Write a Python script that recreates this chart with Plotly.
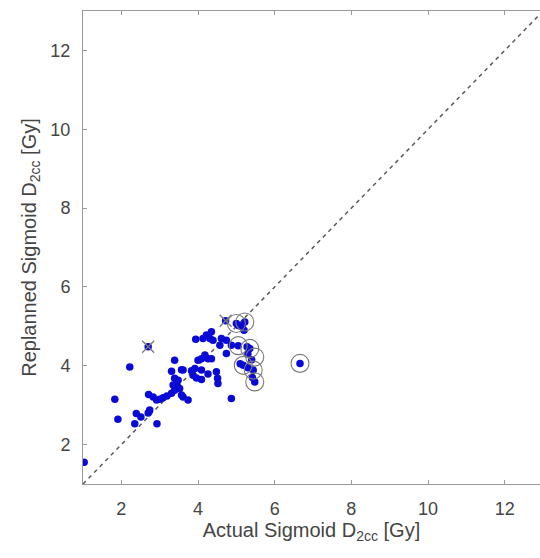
import plotly.graph_objects as go

# Blue data points (actual, replanned)
actual = [1.03, 1.83, 1.91, 2.22, 2.35, 2.39, 2.51, 2.70, 2.74, 2.93, 2.70,
          2.71, 2.83, 2.92, 3.00, 3.09, 3.19, 3.31, 3.39, 3.44, 3.35, 3.48, 3.52, 3.61, 3.74, 3.57,
          3.39, 3.31, 3.57, 3.39, 3.61, 3.83, 3.87, 3.96, 3.92, 4.09, 4.09, 4.26, 4.48, 4.51, 4.52, 4.87,
          4.00, 4.09, 4.18, 4.26, 4.35, 4.74,
          3.94, 4.13, 4.22, 4.35, 4.31, 4.39, 4.61, 4.74, 4.57, 4.87,
          4.72,
          5.00, 5.05, 5.15, 5.22, 5.05, 5.35, 5.18, 5.44, 5.48, 6.66,
          5.12, 5.20, 5.28, 5.30, 5.10, 5.30, 5.42, 5.40]
replanned = [1.55, 3.15, 2.64, 3.97, 2.53, 2.79, 2.70, 2.80, 2.88, 2.53, 4.48,
             3.27, 3.21, 3.13, 3.15, 3.19, 3.23, 3.30, 3.38, 3.51, 3.51, 3.63, 3.42, 3.21, 3.13, 3.26,
             4.14, 3.86, 3.90, 3.68, 3.89, 3.87, 3.76, 3.69, 3.93, 3.65, 3.89, 3.79, 3.85, 3.68, 3.55, 3.17,
             4.14, 4.18, 4.27, 4.18, 4.18, 4.31,
             4.67, 4.69, 4.78, 4.86, 4.69, 4.65, 4.69, 4.65, 4.52, 4.52,
             5.14,
             5.07, 5.02, 5.00, 5.11, 4.51, 4.44, 4.01, 3.89, 3.59, 4.06,
             5.00, 4.90, 4.48, 4.30, 4.05, 3.95, 3.70, 4.15]

# Circled points
circ_x = [5.00, 5.22, 5.05, 5.35, 5.48, 5.18, 5.44, 5.48, 6.66]
circ_y = [5.07, 5.11, 4.51, 4.44, 4.22, 4.01, 3.89, 3.59, 4.06]

# Cross-marked points
cross_x = [2.70, 4.72]
cross_y = [4.48, 5.14]

# Identity line
line_x = [1, 13]
line_y = [1, 13]

x_ticks = [2, 4, 6, 8, 10, 12]
y_ticks = [2, 4, 6, 8, 10, 12]

fig = go.Figure()
fig.add_trace(go.Scatter(x=line_x, y=line_y, mode="lines",
                         line=dict(color="#5a5a5a", width=1.5, dash="4px,4px"),
                         hoverinfo="skip", showlegend=False))
fig.add_trace(go.Scatter(x=actual, y=replanned, mode="markers",
                         marker=dict(color="#0a0ad6", size=7.5, line=dict(width=0)),
                         showlegend=False))
fig.add_trace(go.Scatter(x=circ_x, y=circ_y, mode="markers",
                         marker=dict(symbol="circle-open", color="#7a7a7a", size=18,
                                     line=dict(width=1.1, color="#7a7a7a")),
                         showlegend=False))
fig.add_trace(go.Scatter(x=cross_x, y=cross_y, mode="markers",
                         marker=dict(symbol="x-thin-open", color="#7a7a7a", size=12,
                                     line=dict(width=1.3, color="#7a7a7a")),
                         showlegend=False))

axis_common = dict(showgrid=False, zeroline=False, showline=True,
                   linecolor="#9a9a9a", linewidth=1, ticks="inside", ticklen=4,
                   tickcolor="#9a9a9a",
                   tickfont=dict(family="Liberation Sans, Arial", size=18, color="#454545"),
                   title_font=dict(family="Liberation Sans, Arial", size=20, color="#454545"))

fig.update_xaxes(range=[1, 12.92], tickvals=x_ticks, mirror="ticks",
                 ticklabelstandoff=8,
                 title=dict(text="Actual Sigmoid D<sub>2cc</sub> [Gy]", standoff=4),
                 **axis_common)
fig.update_yaxes(range=[1, 13], tickvals=y_ticks, mirror=False,
                 ticklabelstandoff=8,
                 title=dict(text="Replanned Sigmoid D<sub>2cc</sub> [Gy]", standoff=8),
                 **axis_common)

fig.update_layout(width=540, height=558,
                  margin=dict(l=83, r=0, t=11, b=74),
                  paper_bgcolor="white", plot_bgcolor="white")

fig.write_html("out.html")
